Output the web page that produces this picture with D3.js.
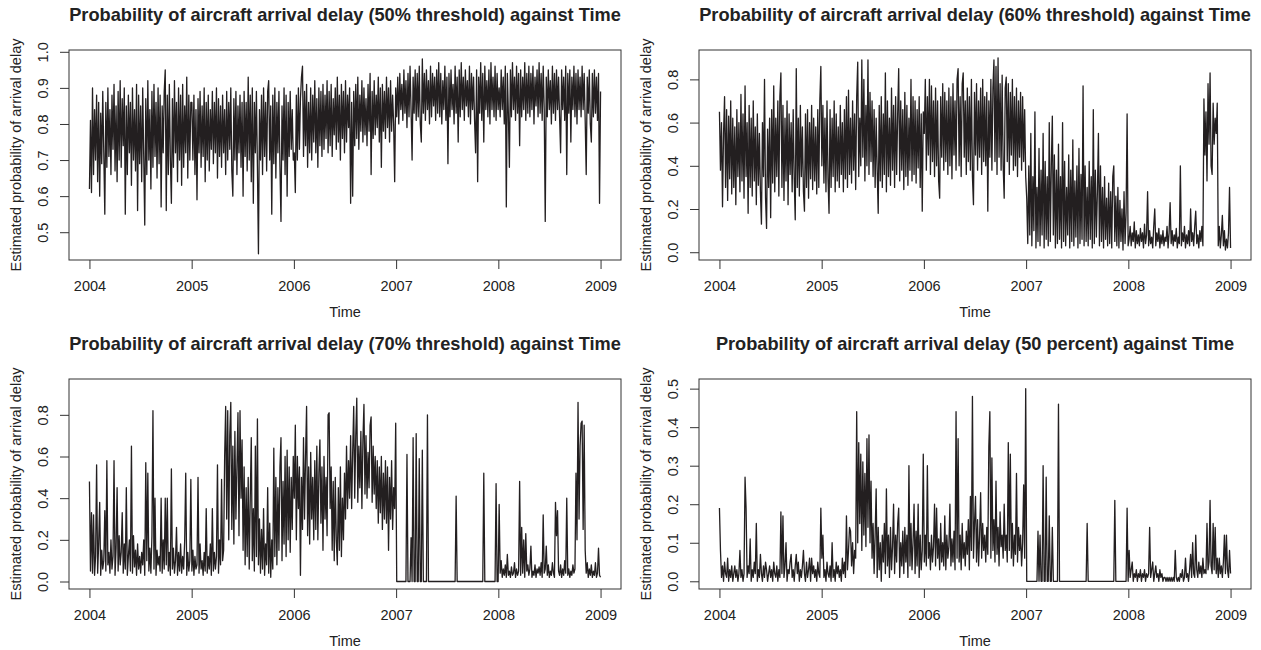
<!DOCTYPE html>
<html>
<head>
<meta charset="utf-8">
<script src="https://cdn.jsdelivr.net/npm/d3@7"></script>
<style>
body { margin: 0; background: #fff; }
text { font-family: "Liberation Sans", Arial, sans-serif; fill: #222; }
</style>
</head>
<body>
<svg id="chart" width="1261" height="650"></svg>
<script>
var yearTicks = [2004, 2005, 2006, 2007, 2008, 2009];

var titles = [
	'Probability of aircraft arrival delay (50% threshold) against Time',
	'Probability of aircraft arrival delay (60% threshold) against Time',
	'Probability of aircraft arrival delay (70% threshold) against Time',
	'Probability of aircraft arrival delay (50 percent) against Time'
];

// estimated probabilities in percent, 100 readings per year from 2004 to 2009
var thr50 = [
	62,81,61,90,66,84,70,88,64,86, 60,83,69,89,72,55,86,68,90,71, 84,66,88,73,91,67,85,64,89,70, 92,68,87,74,90,55,85,66,88,72, 86,63,90,70,84,67,91,56,88,69,
	85,64,90,71,52,87,66,92,70,84, 62,89,68,91,71,86,65,90,69,88, 57,85,72,89,95,56,88,66,91,70, 58,87,68,92,72,86,64,90,70,88, 63,91,68,85,72,93,65,88,70,86,
	86,70,88,66,84,59,87,72,89,68, 85,71,90,64,86,70,88,67,84,73, 89,69,86,72,90,65,87,71,85,68, 88,72,84,66,89,70,86,73,90,67, 60,87,70,89,66,85,72,88,68,86,
	60,89,71,86,67,93,70,88,64,90, 58,86,72,89,68,44,84,70,88,66, 90,71,86,67,89,92,70,85,55,88, 69,90,65,86,72,89,68,53,85,70, 90,66,88,60,86,71,89,73,84,70,
	72,61,88,70,90,73,87,93,96,71, 89,74,91,68,86,72,90,70,88,75, 92,72,87,68,90,74,89,71,91,73, 88,76,92,72,89,74,91,71,87,77, 90,73,93,75,88,70,91,76,89,72,
	92,75,88,79,90,58,86,60,89,74, 91,76,93,73,88,78,92,75,90,77, 87,74,91,78,94,66,89,76,92,77, 88,79,93,75,90,68,91,78,89,76, 93,79,90,75,92,78,88,80,64,90,
	82,93,80,94,84,91,81,95,83,92, 79,94,82,96,84,70,93,83,95,81, 94,82,96,80,75,98,83,94,81,95, 84,92,80,96,82,94,85,93,81,95, 83,97,82,94,80,92,84,96,81,93,
	69,94,82,95,84,91,80,96,83,93, 75,95,82,97,84,93,81,95,85,92, 82,96,80,94,84,93,81,72,95,64, 93,83,97,81,94,75,96,84,92,82, 95,80,97,84,93,82,96,81,94,84,
	90,82,95,84,93,80,96,57,94,83, 68,95,82,97,84,93,81,96,83,94, 74,95,82,93,84,97,81,94,83,96, 82,94,84,96,80,93,85,95,82,97, 83,94,81,96,84,53,93,82,95,84,
	92,80,96,83,94,81,95,84,93,82, 72,95,84,93,81,96,66,94,83,95, 75,93,84,96,82,94,80,95,84,93, 82,96,84,94,81,66,93,83,95,80, 75,94,82,95,83,93,81,94,58,89
];
var thr60 = [
	65,38,60,21,55,72,30,66,24,63, 34,70,27,62,30,58,22,66,35,60, 28,73,33,64,25,77,35,60,18,68, 30,62,26,70,33,58,22,64,31,55, 28,13,60,35,80,25,11,57,30,62,
	16,66,32,77,28,62,35,70,26,72, 83,30,68,24,62,33,70,22,64,36, 60,28,66,34,15,85,30,62,26,68, 35,58,28,19,64,30,66,25,60,34, 68,29,62,33,58,27,66,30,70,86,
	40,68,32,62,28,70,34,18,66,30, 62,35,70,28,64,33,58,30,68,36, 60,28,66,34,72,30,75,36,62,32, 70,38,64,29,72,88,35,62,40,89, 44,80,33,68,40,89,36,74,42,70,
	35,66,30,62,38,18,68,33,72,30, 64,36,83,28,70,35,62,31,76,38, 68,30,72,36,64,85,33,70,38,66, 29,74,35,68,31,62,38,80,33,72, 36,70,32,66,39,72,30,64,19,65,
	55,80,38,72,45,80,36,77,42,70, 35,76,40,70,33,25,72,44,78,38, 74,42,70,36,76,40,72,34,78,45, 70,38,80,85,40,72,35,78,83,44, 70,36,76,42,72,38,80,35,22,74,
	45,78,38,70,44,76,36,80,42,72, 40,74,19,70,44,80,38,76,89,42, 86,36,90,44,78,38,82,40,25,76, 81,42,78,36,74,45,80,38,72,40, 76,35,70,44,74,38,72,42,66,35,
	25,4,40,8,55,3,35,10,65,2, 30,5,48,3,38,8,55,2,42,6, 35,3,60,5,40,63,8,45,2,38, 4,50,6,35,2,60,5,42,3,30, 8,45,2,38,5,52,3,33,7,40,
	2,48,4,36,6,77,3,40,5,30, 3,42,6,35,2,66,4,38,7,28, 55,3,40,5,30,2,35,6,25,3, 32,4,28,2,35,40,5,26,3,30, 2,24,5,20,1,28,4,18,64,3,
	6,12,3,9,5,14,2,10,4,8, 3,11,5,9,2,13,4,8,28,3, 10,4,7,2,12,20,3,9,5,11, 2,8,4,10,3,7,5,12,2,9, 23,4,10,3,8,5,11,2,7,4,
	40,3,9,5,12,2,8,4,10,3, 20,5,9,3,12,19,4,8,2,10, 5,12,3,71,45,65,33,78,50,83, 40,36,69,50,62,55,69,3,12,2, 8,17,3,10,1,6,2,9,30,2
];
var thr70 = [
	48,5,33,4,32,3,12,56,4,18, 38,3,15,6,10,34,5,58,8,14, 4,20,6,12,58,3,16,45,5,22, 8,14,33,4,18,6,45,3,12,20, 5,65,4,22,7,15,3,18,6,12,
	4,14,8,20,3,57,10,52,5,16, 4,22,82,6,40,3,15,8,12,5, 40,4,20,6,40,8,40,5,14,3, 54,6,16,4,10,26,3,14,5,18, 4,12,6,20,52,3,14,5,10,49,
	5,15,3,12,6,8,50,4,18,6, 10,3,14,5,35,4,12,6,18,3, 35,5,14,6,12,56,4,20,8,49, 10,15,60,84,30,82,20,70,86,25, 65,18,72,30,55,81,22,82,40,68,
	15,55,8,45,12,50,6,40,69,10, 35,5,65,12,78,8,30,4,25,6, 35,3,18,8,45,4,28,2,20,6, 64,12,50,8,45,15,55,69,10,48, 18,60,12,63,20,55,14,50,25,60,
	40,75,20,60,35,55,3,50,25,69, 30,60,84,22,55,18,62,30,50,20, 58,25,65,20,52,68,28,55,15,60, 30,50,22,80,81,35,55,15,48,10, 50,20,8,45,15,55,12,40,20,52,
	30,65,35,58,40,70,35,62,84,40, 70,88,38,65,45,72,35,68,85,42, 70,40,62,45,75,79,38,65,42,60, 35,58,28,55,33,60,25,52,30,58, 28,55,15,50,30,58,25,45,35,76,
	0,0,0,0,0,0,0,0,0,0, 61,0,0,0,21,0,69,0,0,71, 0,0,59,0,0,63,0,0,0,0, 80,0,0,0,0,0,0,0,0,0, 0,0,0,0,0,0,0,0,0,0,
	0,0,0,0,0,0,0,0,41,0, 0,0,0,0,0,0,0,0,0,0, 0,0,0,0,0,0,0,0,0,0, 0,0,0,0,0,52,0,0,0,0, 0,0,0,0,0,0,0,47,0,0,
	37,4,10,2,6,3,8,2,13,3, 5,2,7,3,4,9,2,6,3,5, 48,3,26,4,20,2,23,5,8,3, 6,17,2,5,3,8,2,6,4,7, 3,9,2,32,4,6,17,3,8,2,
	5,3,9,4,2,38,22,34,5,3, 8,2,6,3,10,4,40,3,6,2, 5,3,8,4,6,52,20,86,30,65, 76,77,25,75,15,4,9,2,6,3, 8,2,5,3,9,2,4,16,3,2
];
var pct50 = [
	19,8,1,4,0,5,2,1,6,0, 3,1,4,0,2,4,1,3,0,2, 8,1,3,0,2,27,19,1,4,2, 11,0,3,1,5,2,15,0,3,1, 7,2,0,4,1,5,3,0,2,4,
	1,3,0,5,2,1,4,0,3,1, 18,2,17,1,4,10,0,3,2,5, 7,1,3,0,4,7,2,5,0,3, 1,4,8,2,0,5,1,3,6,0, 6,2,4,1,3,0,5,2,1,19,
	6,12,1,3,0,5,2,1,4,0, 10,1,3,0,5,2,4,1,3,0, 6,2,5,1,17,3,8,14,13,4, 10,2,8,6,44,10,36,15,33,8, 31,12,28,9,37,14,38,10,26,6,
	15,2,12,24,1,14,3,10,0,12, 5,15,2,24,4,12,1,14,3,9, 20,2,12,5,15,19,1,10,4,13, 2,14,5,12,1,30,4,15,3,10, 20,2,13,4,20,1,12,3,8,33,
	5,12,4,30,6,10,3,12,5,9, 20,4,19,6,11,3,15,5,10,4, 17,3,12,6,9,20,4,11,5,13, 3,44,6,37,5,12,3,15,6,10, 4,13,7,16,3,22,8,48,6,15,
	22,5,16,4,12,23,6,15,8,12, 5,14,7,35,44,6,32,8,16,5, 26,7,14,4,18,9,12,6,20,8, 12,5,36,8,33,6,15,4,12,7, 28,5,14,8,12,4,10,25,6,50,
	0,0,0,0,0,0,0,0,0,0, 0,13,0,12,0,0,30,0,0,27, 0,0,17,0,0,14,0,0,0,0, 0,46,0,0,0,0,0,0,0,0, 0,0,0,0,0,0,0,0,0,0,
	0,0,0,0,0,0,0,0,0,15, 0,0,0,0,0,0,0,0,0,0, 0,0,0,0,0,0,0,0,0,0, 0,0,0,0,0,0,21,0,0,0, 0,0,0,0,0,0,0,0,19,0,
	8,1,3,5,0,2,1,3,0,2, 1,3,0,2,1,3,0,2,1,2, 14,1,3,5,0,2,4,1,2,0, 3,1,2,0,1,1,0,1,0,1, 0,1,0,1,0,8,1,0,1,0,
	2,1,3,0,1,6,1,2,0,3, 7,1,10,2,1,12,3,1,5,2, 4,1,6,2,3,2,15,3,5,21, 4,2,15,3,14,2,6,1,6,2, 4,1,5,12,2,12,3,1,8,2
];

var yTicks50 = [0.5, 0.6, 0.7, 0.8, 0.9, 1.0];
var yTicks60 = [0, 0.2, 0.4, 0.6, 0.8];
var yTicks70 = [0, 0.2, 0.4, 0.6, 0.8];
var yTicksPct = [0, 0.1, 0.2, 0.3, 0.4, 0.5];

var yLim50 = [0.423, 1.005],
	yLim60 = [-0.036, 0.936],
	yLim70 = [-0.036, 0.972],
	yLimPct = [-0.02, 0.525];

var w = 552,
	h = 210,
	svg = d3.select('#chart');

var panels = [
	{ left: 69, top: 50, values: thr50, ticks: yTicks50, lim: yLim50, title: titles[0] },
	{ left: 699, top: 50, values: thr60, ticks: yTicks60, lim: yLim60, title: titles[1] },
	{ left: 69, top: 379, values: thr70, ticks: yTicks70, lim: yLim70, title: titles[2] },
	{ left: 699, top: 379, values: pct50, ticks: yTicksPct, lim: yLimPct, title: titles[3] }
];

function drawPanel(p) {
	var g = svg.append('g').attr('transform', 'translate(' + p.left + ',' + p.top + ')');
	var n = p.values.length;
	var x = d3.scaleLinear().domain([2004 - 0.2, 2009 + 0.2]).range([0, w]);
	var y = d3.scaleLinear().domain(p.lim).range([h, 0]);

	// readings are evenly spaced over 2004-2009
	var line = d3.line()
		.x(function(d, i) { return x(2004 + 5 * i / (n - 1)); })
		.y(function(d) { return y(d / 100); });

	g.append('path')
		.datum(p.values)
		.attr('d', line)
		.attr('fill', 'none')
		.attr('stroke', '#231f20')
		.attr('stroke-width', 1.3)
		.attr('stroke-linejoin', 'round');

	var xAxis = g.append('g')
		.attr('transform', 'translate(0,' + h + ')')
		.call(d3.axisBottom(x).tickValues(yearTicks).tickSize(9).tickPadding(12).tickFormat(d3.format('d')));
	xAxis.select('.domain').remove();
	xAxis.selectAll('line').attr('stroke', '#333');
	xAxis.selectAll('text').style('font-size', '14.5px').attr('fill', '#222');

	var yAxis = g.append('g')
		.call(d3.axisLeft(y).tickValues(p.ticks).tickSize(9).tickFormat(d3.format('.1f')));
	yAxis.select('.domain').remove();
	yAxis.selectAll('line').attr('stroke', '#333');
	yAxis.selectAll('text')
		.attr('x', null).attr('dy', null)
		.attr('text-anchor', 'middle')
		.attr('transform', 'translate(-21,0) rotate(-90)')
		.style('font-size', '14.5px')
		.attr('fill', '#222');

	g.append('rect')
		.attr('width', w).attr('height', h)
		.attr('fill', 'none').attr('stroke', '#333').attr('stroke-width', 1);

	g.append('text')
		.attr('x', w / 2).attr('y', -29)
		.attr('text-anchor', 'middle')
		.style('font-size', '18.2px').style('font-weight', 'bold')
		.text(p.title);

	g.append('text')
		.attr('x', w / 2).attr('y', h + 57)
		.attr('text-anchor', 'middle')
		.style('font-size', '14.5px')
		.text('Time');

	g.append('text')
		.attr('transform', 'translate(-48,' + (h / 2) + ') rotate(-90)')
		.attr('text-anchor', 'middle')
		.style('font-size', '14.5px')
		.text('Estimated probability of arrival delay');
}

panels.forEach(drawPanel);
</script>
</body>
</html>
